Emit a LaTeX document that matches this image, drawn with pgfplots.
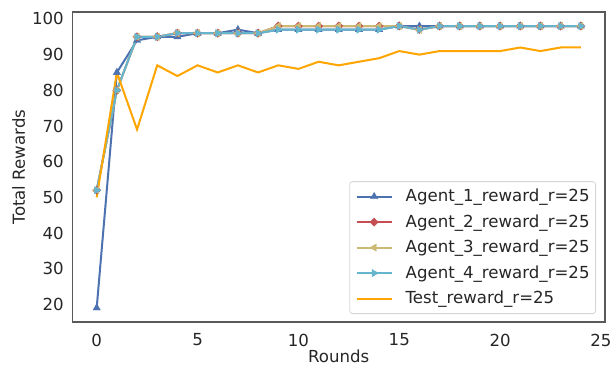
\documentclass[border=0pt]{standalone}
\usepackage{fontspec}
\setmainfont{DejaVu Sans}
\usepackage{pgfplots}
\usepackage{pgfplotstable}
\pgfplotsset{compat=1.18}
\definecolor{sbblue}{HTML}{4C72B0}
\definecolor{sbred}{HTML}{C44E52}
\definecolor{sbtan}{HTML}{CCB974}
\definecolor{sbcyan}{HTML}{64B5CD}
\definecolor{sborange}{HTML}{FFA500}
\definecolor{textgray}{HTML}{262626}
\definecolor{framegray}{HTML}{595959}
\definecolor{legendgray}{HTML}{D6D6D6}
\newcommand\fsz{\fontsize{16.6}{20}\selectfont}
\pgfplotstableread{
r a1 a2 a3 a4 t
0 19 52 52 52 50
1 85 80 80 80 85
2 94 95 95 95 69
3 95 95 95 95 87
4 95 96 96 96 84
5 96 96 96 96 87
6 96 96 96 96 85
7 97 96 96 96 87
8 96 96 96 96 85
9 97 98 98 97 87
10 97 98 98 97 86
11 97 98 98 97 88
12 97 98 98 97 87
13 97 98 98 97 88
14 97 98 98 97 89
15 98 98 98 98 91
16 98 97 97 97 90
17 98 98 98 98 91
18 98 98 98 98 91
19 98 98 98 98 91
20 98 98 98 98 91
21 98 98 98 98 92
22 98 98 98 98 91
23 98 98 98 98 92
24 98 98 98 98 92
}\data
\begin{document}
\begin{tikzpicture}
\begin{axis}[
  scale only axis,
  width=532.5pt, height=310pt,
  xmin=-1.2, xmax=25.2, ymin=15.05, ymax=101.95,
  xtick={0,5,10,15,20,25},
  ytick={20,30,40,50,60,70,80,90,100},
  major tick length=0pt,
  axis line style={draw=framegray, line width=1.3pt},
  /pgf/number format/assume math mode=true,
  tick label style={font=\fsz, text=textgray},
  xticklabel style={inner sep=0pt, anchor=north, yshift=-11.5pt},
  yticklabel style={inner sep=0pt, anchor=east, xshift=-8.5pt},
  xlabel={Rounds}, ylabel={Total Rewards},
  label style={font=\fsz, text=textgray, inner sep=0pt},
  xlabel style={at={(axis description cs:0.5,-0.1315)}, anchor=base},
  ylabel style={at={(axis description cs:-0.0892,0.5)}, anchor=base},
  legend cell align=left,
  legend style={at={(axis description cs:0.9831,0.0258)}, anchor=south east,
    draw=legendgray, fill=white, rounded corners=3pt, line width=0.8pt,
    inner xsep=6pt, inner ysep=7pt, row sep=9.5pt, column sep=13pt,
    font=\fsz, text=textgray,
    nodes={inner sep=0pt, text height=13pt, text depth=3pt}},
  legend image code/.code={\draw[mark repeat=2,mark phase=2,#1] plot coordinates {(0pt,0pt) (17.5pt,0pt) (35pt,0pt)};},
]
\addplot[sbblue, line width=2pt, mark=triangle*, mark size=4.2pt, mark options={solid, line width=0.4pt, fill=sbblue}] table[x=r,y=a1]{\data};
\addlegendentry{Agent\_1\_reward\_r=25}
\addplot[sbred, line width=2pt, mark=square*, mark size=2.9pt, mark options={solid, rotate=45, line width=0.4pt, fill=sbred}] table[x=r,y=a2]{\data};
\addlegendentry{Agent\_2\_reward\_r=25}
\addplot[sbtan, line width=2pt, mark=triangle*, mark size=4.2pt, mark options={solid, rotate=90, line width=0.4pt, fill=sbtan}] table[x=r,y=a3]{\data};
\addlegendentry{Agent\_3\_reward\_r=25}
\addplot[sbcyan, line width=2pt, mark=triangle*, mark size=4.2pt, mark options={solid, rotate=-90, line width=0.4pt, fill=sbcyan}] table[x=r,y=a4]{\data};
\addlegendentry{Agent\_4\_reward\_r=25}
\addplot[sborange, line width=2pt] table[x=r,y=t]{\data};
\addlegendentry{Test\_reward\_r=25}
\coordinate (bl) at (rel axis cs:0,0);
\coordinate (tr) at (rel axis cs:1,1);
\end{axis}
\pgfresetboundingbox
\path[use as bounding box] ([shift={(-72.5pt,-45pt)}]bl) rectangle ([shift={(8pt,12pt)}]tr);
\end{tikzpicture}
\end{document}
